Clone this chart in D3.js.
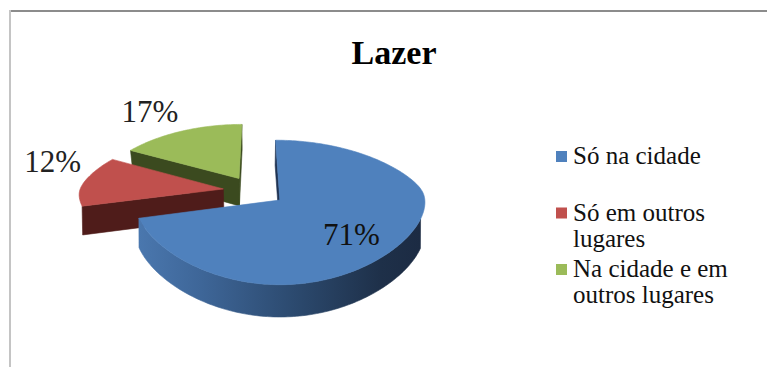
<!DOCTYPE html>
<html>
<head>
<meta charset="utf-8">
<script src="https://cdn.jsdelivr.net/npm/d3@7/dist/d3.min.js"></script>
<style>
  html, body { margin: 0; padding: 0; background: #ffffff; }
  svg { display: block; }
  text, tspan { font-family: "Liberation Serif", "Times New Roman", serif; }
</style>
</head>
<body>
<svg id="chart" width="767" height="367"></svg>
<script>
// ---- data ----
const title = "Lazer";
const categories = ["Só na cidade", "Só em outros lugares", "Na cidade e em outros lugares"];
const values = [71, 12, 17];
const legendLines = [["Só na cidade"], ["Só em outros", "lugares"], ["Na cidade e em", "outros lugares"]];

// ---- palette ----
const topColors = ["#4f81bd", "#c0504d", "#9bbb59"];
const wallColors = ["#1f3352", "#4f1c1a", "#3b4a1f"];

const svg = d3.select("#chart");
const W = 767, H = 367;
const serif = '"Liberation Serif", "Times New Roman", serif';

// frame
svg.append("line").attr("x1", 10).attr("x2", W).attr("y1", 11).attr("y2", 11)
  .attr("stroke", "#8c8c8c").attr("stroke-width", 2);
svg.append("line").attr("x1", 10).attr("x2", 10).attr("y1", 10).attr("y2", H)
  .attr("stroke", "#c4c4c4").attr("stroke-width", 2);

// title
svg.append("text").text(title)
  .attr("x", 394).attr("y", 64)
  .attr("text-anchor", "middle")
  .style("font-family", serif)
  .style("font-weight", "bold").style("font-size", "34px").attr("fill", "#000");

// ---- 3D pie projection ----
const K = 146;                 // pixels per unit radius
const elev = 27.3 * Math.PI / 180;
const sinE = Math.sin(elev), cosE = Math.cos(elev);
const camDistY = 5.29;         // vertical perspective distance (radius units)
const camDistX = 3.7;          // horizontal foreshortening of the far half
const CX = 254.6, CY = 190.8;  // projected pie centre
const thick = 0.22;            // pie height
const explode = 0.22;          // slice offset
const soft = 0.12;             // smooths the near/far transition

function project(p) {
  const [X, Y, Z] = p;
  const sy = Y * cosE - Z * sinE;
  const dz = Y * sinE + Z * cosE;
  const s = camDistY / (camDistY - dz);
  const far = (dz - Math.sqrt(dz * dz + soft * soft)) / 2;   // smooth min(dz, 0)
  const sx = camDistX / (camDistX - far);
  return [CX + K * X * sx, CY - K * sy * s];
}
function depth(p) { return p[1] * sinE + p[2] * cosE; }
const cam = [0, camDistY * sinE, camDistY * cosE];
function facing(n, p) {
  return n[0] * (cam[0] - p[0]) + n[1] * (cam[1] - p[1]) + n[2] * (cam[2] - p[2]) > 0;
}

const pie = d3.pie().sort(null).startAngle(0).endAngle(2 * Math.PI);
const arcs = pie(values);
const lineGen = d3.line();

const defs = svg.append("defs");
const grad = defs.append("linearGradient").attr("id", "blueWall")
  .attr("x1", "0").attr("x2", "1").attr("y1", "0").attr("y2", "0");
[[0, "#4a77ae"], [0.22, "#3e6698"], [0.55, "#2c4a6f"], [0.86, "#1e3049"], [1, "#1c2b43"]]
  .forEach(([o, c]) => grad.append("stop").attr("offset", o).attr("stop-color", c));

const slices = arcs.map((a, i) => {
  const mid = (a.startAngle + a.endAngle) / 2;
  const ox = explode * Math.sin(mid), oz = -explode * Math.cos(mid);
  const rim = (ang, y) => [ox + Math.sin(ang), y, oz - Math.cos(ang)];
  const apexT = [ox, 0, oz], apexB = [ox, -thick, oz];
  const n = Math.max(8, Math.ceil((a.endAngle - a.startAngle) / 0.02));
  const angs = d3.range(n + 1).map(k => a.startAngle + (a.endAngle - a.startAngle) * k / n);
  const faces = [];

  // radial walls
  const w0n = [-Math.cos(a.startAngle), 0, -Math.sin(a.startAngle)];
  const w1n = [Math.cos(a.endAngle), 0, Math.sin(a.endAngle)];
  [[a.startAngle, w0n], [a.endAngle, w1n]].forEach(([ang, nrm]) => {
    if (facing(nrm, apexT)) {
      const pts = [apexT, rim(ang, 0), rim(ang, -thick), apexB];
      faces.push({ pts, fill: wallColors[i], z: d3.mean(pts, depth) });
    }
  });

  // outer curved wall, visible runs only
  let run = [];
  const flush = () => {
    if (run.length > 1) {
      const pts = run.map(g => rim(g, 0)).concat(run.slice().reverse().map(g => rim(g, -thick)));
      faces.push({ pts, fill: i === 0 ? "url(#blueWall)" : wallColors[i], z: d3.mean(pts, depth) });
    }
    run = [];
  };
  angs.forEach(g => {
    const p = rim(g, 0);
    if (facing([Math.sin(g), 0, -Math.cos(g)], p)) run.push(g); else flush();
  });
  flush();

  faces.sort((u, v) => u.z - v.z);
  const top = [apexT].concat(angs.map(g => rim(g, 0)));
  return { i, a, mid, ox, oz, rim, faces, top, z: depth(apexT) };
});

const g = svg.append("g");
slices.slice().sort((u, v) => u.z - v.z).forEach(s => {
  s.faces.forEach(f => {
    g.append("path").attr("d", lineGen(f.pts.map(project)) + "Z")
      .attr("fill", f.fill).attr("stroke", f.fill).attr("stroke-width", 0.6)
      .attr("stroke-linejoin", "round");
  });
  g.append("path").attr("d", lineGen(s.top.map(project)) + "Z")
    .attr("fill", topColors[s.i]).attr("stroke", topColors[s.i]).attr("stroke-width", 0.6)
    .attr("stroke-linejoin", "round");
});

// ---- data labels ----
const total = d3.sum(values);
const fmt = v => Math.round(v / total * 100) + "%";
slices.forEach(s => {
  const inside = s.a.value / total > 0.5;
  const t = svg.append("text").text(fmt(s.a.value))
    .attr("text-anchor", "middle")
    .style("font-family", serif)
    .style("font-size", "31px").attr("fill", inside ? "#111" : "#222");
  if (inside) {
    const r = 0.62;
    const p = project([s.ox + r * Math.sin(s.mid), 0, s.oz - r * Math.cos(s.mid)]);
    t.attr("x", p[0]).attr("y", p[1] + 16);
  } else {
    // outside end: label box sits beside the rim point, raised above the top face
    const apex = project([s.ox, 0, s.oz]);
    const edge = project(s.rim(s.mid, 0));
    const bb = t.node().getBBox();
    const cx = edge[0] + Math.sign(edge[0] - apex[0]) * (bb.width / 2 + 4);
    const cy = edge[1] - 19;
    t.attr("x", cx).attr("y", cy + 10);
  }
});

// ---- legend ----
const legY = d3.scalePoint().domain(categories).range([164, 277]);
const leg = svg.append("g");
categories.forEach((c, i) => {
  const y0 = legY(c);
  leg.append("rect").attr("x", 556).attr("y", y0 - 13).attr("width", 11).attr("height", 11)
    .attr("fill", topColors[i]);
  const t = leg.append("text")
    .style("font-family", serif)
    .style("font-size", "25px").attr("fill", "#111");
  legendLines[i].forEach((ln, j) => {
    t.append("tspan").attr("x", 573).attr("y", y0 + j * 26)
      .style("font-family", serif).text(ln);
  });
});
</script>
</body>
</html>
